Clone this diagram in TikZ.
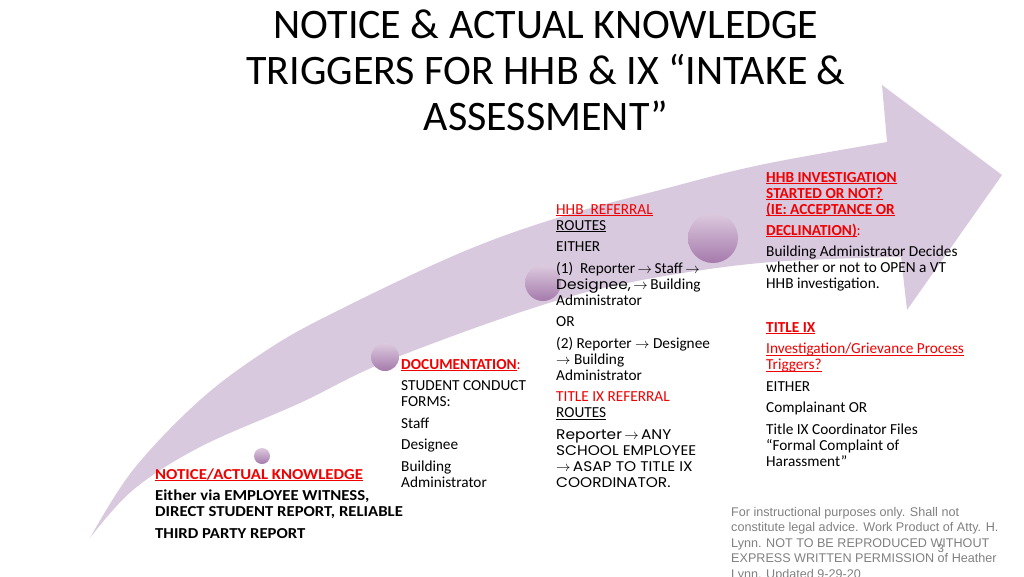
\documentclass[tikz,border=0pt]{standalone}
\usepackage{fontspec}
\setmainfont{Carlito}
\newfontfamily\gothic[FakeStretch=1.1]{Poppins}
\newfontfamily\widebold[FakeStretch=1.1]{Carlito}
\newfontfamily\footfont{Liberation Sans}
\definecolor{arrowc}{RGB}{217,201,222}
\definecolor{bubtop}{RGB}{220,202,222}
\definecolor{bubbot}{RGB}{165,122,172}
\definecolor{redc}{RGB}{240,0,0}
\definecolor{footc}{RGB}{128,128,128}
\newcommand\myul[1]{\setbox0=\hbox{#1}\rlap{\rule[-1.7pt]{\wd0}{0.8pt}}\box0}
\newcommand\rarr{$\rightarrow$}
\begin{document}
\begin{tikzpicture}[x=1pt,y=-1pt,
  txt/.style={anchor=north west, inner sep=0pt, align=left, font=\fontsize{15.3}{16}\selectfont},
  boldtxt/.style={txt, font=\widebold\bfseries\fontsize{15.2}{16}\selectfont},
  foottxt/.style={anchor=north west, inner sep=0pt, align=left, text=footc, font=\footfont\fontsize{12.6}{15.5}\selectfont},
  bubble/.style={circle, inner sep=0pt, top color=bubtop, bottom color=bubbot, draw=none}]
\useasboundingbox (0,0) rectangle (1024,576);
% curved arrow
\fill[arrowc] plot[smooth, tension=0.6] coordinates {(90,538) (133,470) (200,400) (267,350) (333,313) (460,253) (560,217) (660,190) (760,165) (887,142)}
  -- (882,85) -- (1002,175) -- (907,310) -- (901,257)
  -- plot[smooth, tension=0.6] coordinates {(901,257) (760,263) (627,283) (527,310) (385,362) (300,403) (200,447) (133,490) (90,538)} -- cycle;
% bubbles
\node[bubble, minimum size=16pt] (b1) at (262,456) {};
\node[bubble, minimum size=28pt] (b2) at (385,357) {};
\node[bubble, minimum size=36pt] (b3) at (543,283) {};
\node[bubble, minimum size=50pt] (b4) at (713,238) {};
% title
\node[anchor=north, inner sep=0pt, align=center, font=\fontsize{42}{46}\selectfont] (title) at (546,5.8)
  {\strut NOTICE \& ACTUAL KNOWLEDGE\\TRIGGERS FOR HHB \& IX “INTAKE \&\\ASSESSMENT”};
% block A
\node[boldtxt] (notice) at (155,467.8) {\strut{\color{redc}\myul{NOTICE/ACTUAL KNOWLEDGE}}\\[5pt]
  Either via EMPLOYEE WITNESS,\\
  DIRECT STUDENT REPORT, RELIABLE\\[6pt]
  THIRD PARTY REPORT};
% block B
\node[txt] (doc) at (401,357.8) {\strut{\color{redc}{\bfseries\myul{DOCUMENTATION}}:}\\[5.5pt]
  STUDENT CONDUCT\\
  FORMS:\\[5.5pt]
  Staff\\[5.5pt]
  Designee\\[5.5pt]
  Building\\
  Administrator};
% block C
\node[txt] (routes) at (556,202.8) {\strut{\color{redc}\myul{HHB~~REFERRAL}}\\
  \myul{ROUTES}\\[5.5pt]
  EITHER\\[5.5pt]
  (1)~~Reporter\,\rarr\,Staff\,\rarr\\
  {\gothic\fontsize{14}{16}\selectfont Designee,}\,\rarr\,Building\\
  Administrator\\[5.5pt]
  OR\\[5.5pt]
  (2) Reporter \rarr{} Designee\\
  \rarr{} Building\\
  Administrator\\[5.5pt]
  {\color{redc}TITLE IX REFERRAL}\\
  \myul{ROUTES}\\[5.5pt]
  {\gothic\fontsize{14}{16}\selectfont Reporter\,\rarr\,ANY}\\
  {\gothic\fontsize{14}{16}\selectfont SCHOOL EMPLOYEE}\\
  {\gothic\fontsize{14}{16}\selectfont \rarr\,ASAP TO TITLE IX}\\
  {\gothic\fontsize{14}{16}\selectfont COORDINATOR.}};
% block D1
\node[txt] (hhbinv) at (766,170.8) {\strut{\color{redc}\bfseries\myul{HHB INVESTIGATION}}\\
  {\color{redc}\bfseries\myul{STARTED OR NOT?}}\\
  {\color{redc}\bfseries\myul{(IE: ACCEPTANCE OR}}\\[5pt]
  {\color{redc}{\bfseries\myul{DECLINATION)}}:}\\[5.5pt]
  Building Administrator Decides\\
  whether or not to OPEN a VT\\
  HHB investigation.};
% block D2
\node[txt] (titleix) at (766,320.8) {\strut{\color{redc}\bfseries\myul{TITLE IX}}\\[5.5pt]
  {\color{redc}\myul{Investigation/Grievance Process}}\\
  {\color{redc}\myul{Triggers?}}\\[5.5pt]
  EITHER\\[5.5pt]
  Complainant OR\\[5.5pt]
  Title IX Coordinator Files\\
  “Formal Complaint of\\
  Harassment”};
% footer
\node[foottxt] (footer) at (731,505.2) {\strut For instructional purposes only. Shall not\\
  constitute legal advice. Work Product of Atty. H.\\
  Lynn. NOT TO BE REPRODUCED WITHOUT\\
  EXPRESS WRITTEN PERMISSION of Heather\\
  Lynn. Updated 9-29-20};
\node[anchor=base, inner sep=0pt, text=footc!90!black, font=\footfont\fontsize{11}{12}\selectfont] (pagenum) at (941,552) {3};
\end{tikzpicture}
\end{document}
